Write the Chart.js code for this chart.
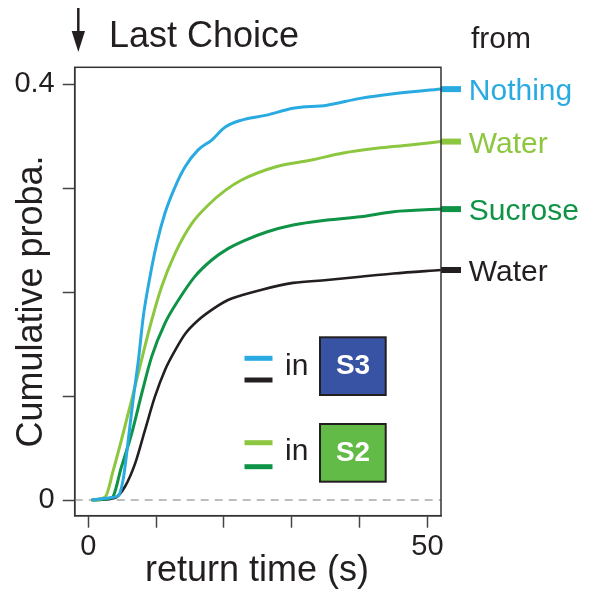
<!DOCTYPE html>
<html lang="en">
<head>
    <meta charset="UTF-8">
    <title>Last Choice</title>
    <style>
        html, body { margin: 0; padding: 0; background: #fff; }
        #grafico { width: 600px !important; height: 590px !important; display: block; }
    </style>
</head>
<body>
    <canvas id="grafico" width="600" height="590"></canvas>
    <script src="https://cdn.jsdelivr.net/npm/chart.js"></script>
    <script>
        // series: return time (s) / cumulative probability
        const nomes = ['Nothing', 'Water', 'Sucrose', 'Water']
        const cores = ['#29abe2', '#8dc63f', '#0f9346', '#231f20']

        const nothingT = [0.5, 3, 4.4, 5.2, 5.9, 6.6, 7.4, 8.1, 9.1, 10.1, 11.3, 12.8, 14.3, 16.2, 18.2, 20.2, 22.6, 26.3, 30.2, 35.2, 40.1, 45, 52]
        const nothingP = [0, 0.002, 0.004, 0.022, 0.058, 0.096, 0.135, 0.176, 0.215, 0.247, 0.276, 0.3015, 0.321, 0.337, 0.3465, 0.359, 0.3657, 0.3705, 0.377, 0.380, 0.3866, 0.391, 0.3955]

        const waterS2T = [0.5, 2.5, 3.7, 4.9, 6.15, 7.6, 9.1, 10.8, 12.8, 15.25, 17.7, 20.2, 22.6, 27.8, 32.7, 37.6, 42.5, 47.4, 52]
        const waterS2P = [0, 0.003, 0.029, 0.058, 0.090, 0.128, 0.167, 0.205, 0.2374, 0.266, 0.284, 0.298, 0.308, 0.321, 0.327, 0.334, 0.3385, 0.3417, 0.345]

        const sucroseT = [0.5, 3.45, 4.9, 6.4, 7.9, 9.35, 11.3, 13.3, 15.7, 18.2, 20.6, 23.1, 26.3, 30.2, 35.2, 40.1, 45, 52]
        const sucroseP = [0, 0.002, 0.032, 0.064, 0.103, 0.138, 0.170, 0.1925, 0.215, 0.231, 0.242, 0.250, 0.258, 0.2647, 0.2695, 0.2727, 0.2775, 0.280]

        const waterS3T = [0.5, 3.9, 5.4, 6.9, 8.35, 9.8, 11.3, 12.8, 14.3, 16.2, 18.2, 20.6, 22.6, 25.3, 30.2, 35.2, 40.1, 45, 52]
        const waterS3P = [0, 0.002, 0.0128, 0.035, 0.067, 0.099, 0.125, 0.144, 0.160, 0.173, 0.183, 0.1925, 0.197, 0.202, 0.209, 0.2117, 0.2149, 0.218, 0.2214]

        const xTicks = [0, 10, 20, 30, 40, 50]
        const xTickLabels = ['0', '', '', '', '', '50']
        const yTicks = [0, 0.1, 0.2, 0.3, 0.4]
        const yTickLabels = ['0', '', '', '', '0.4']

        const fonte = '"Liberation Sans", Arial, Helvetica, sans-serif'
        const tinta = '#231f20'

        const series = [
            [nothingT, nothingP],
            [waterS2T, waterS2P],
            [sucroseT, sucroseP],
            [waterS3T, waterS3P]
        ]

        const pontos = (t, p) => t.map((v, i) => ({ x: v, y: p[i] }))

        const curvas = series.map((s, i) => ({
            label: nomes[i],
            data: pontos(s[0], s[1]),
            borderColor: cores[i],
            borderWidth: i === 3 ? 2.6 : 3,
            pointRadius: 0,
            cubicInterpolationMode: 'monotone',
            fill: false
        }))

        // short thick marks outside the right edge, at each curve's last value
        const marcas = series.map((s, i) => {
            const ultimo = s[1][s[1].length - 1]
            return {
                label: 'mark ' + nomes[i],
                data: [{ x: 52, y: ultimo }, { x: 54.95, y: ultimo }],
                borderColor: cores[i],
                borderWidth: 6,
                borderCapStyle: 'butt',
                pointRadius: 0,
                clip: false
            }
        })

        const linhaZero = {
            label: 'zero',
            data: [{ x: -2, y: 0 }, { x: 52, y: 0 }],
            borderColor: '#a7a9ac',
            borderWidth: 1.5,
            borderDash: [8, 6],
            pointRadius: 0
        }

        const textos = {
            id: 'textos',
            afterDraw(chart) {
                const c = chart.ctx
                const a = chart.chartArea
                const sx = chart.scales.x
                const sy = chart.scales.y
                c.save()

                // box round the plot
                c.strokeStyle = '#333'
                c.lineWidth = 1.5
                c.strokeRect(a.left, a.top, a.right - a.left, a.bottom - a.top)

                // arrow + title
                c.fillStyle = tinta
                c.strokeStyle = tinta
                c.lineWidth = 2.5
                c.beginPath()
                c.moveTo(78.3, 8)
                c.lineTo(78.3, 36)
                c.stroke()
                c.beginPath()
                c.moveTo(71.7, 31)
                c.lineTo(85, 31)
                c.lineTo(78.3, 52)
                c.closePath()
                c.fill()

                c.textBaseline = 'alphabetic'
                c.textAlign = 'left'
                c.font = '36px ' + fonte
                c.fillText('Last Choice', 109, 47)

                c.font = '30px ' + fonte
                c.fillText('from', 471, 48)

                // series names at right
                c.font = '30px ' + fonte
                series.forEach((s, i) => {
                    const ultimo = s[1][s[1].length - 1]
                    c.fillStyle = cores[i]
                    c.fillText(nomes[i], sx.getPixelForValue(56.1), sy.getPixelForValue(ultimo) + 11)
                })

                // axis titles
                c.fillStyle = tinta
                c.font = '36px ' + fonte
                c.textAlign = 'center'
                c.fillText('return time (s)', 257, 581)
                c.save()
                c.translate(41.7, 301.5)
                c.rotate(-Math.PI / 2)
                c.fillText('Cumulative proba.', 0, 0)
                c.restore()

                // legend boxes
                const legenda = [
                    { y1: 358.3, y2: 380, c1: cores[0], c2: cores[3], inY: 375, box: 337.3, fill: '#3953a4', txt: 'S3' },
                    { y1: 442.7, y2: 466.7, c1: cores[1], c2: cores[2], inY: 460, box: 424, fill: '#62bb46', txt: 'S2' }
                ]
                legenda.forEach(l => {
                    c.lineWidth = 5
                    c.lineCap = 'butt'
                    c.strokeStyle = l.c1
                    c.beginPath(); c.moveTo(244.5, l.y1); c.lineTo(272.5, l.y1); c.stroke()
                    c.strokeStyle = l.c2
                    c.beginPath(); c.moveTo(244.5, l.y2); c.lineTo(272.5, l.y2); c.stroke()

                    c.fillStyle = tinta
                    c.textAlign = 'left'
                    c.font = '30px ' + fonte
                    c.fillText('in', 285, l.inY)

                    c.fillStyle = l.fill
                    c.fillRect(320, l.box, 65.7, 57.7)
                    c.strokeStyle = tinta
                    c.lineWidth = 2
                    c.strokeRect(320, l.box, 65.7, 57.7)

                    c.fillStyle = '#fff'
                    c.textAlign = 'center'
                    c.font = 'bold 28px ' + fonte
                    c.fillText(l.txt, 353, l.box + 36.5)
                })

                c.restore()
            }
        }

        const grafico = new Chart(document.getElementById('grafico'), {
            type: 'line',
            data: {
                datasets: [...curvas, ...marcas, linhaZero]
            },
            options: {
                responsive: false,
                animation: false,
                parsing: true,
                layout: { padding: { top: 67.3, right: 159, left: 0, bottom: 0 } },
                plugins: {
                    legend: { display: false },
                    tooltip: { enabled: false }
                },
                scales: {
                    x: {
                        type: 'linear',
                        min: -2,
                        max: 52,
                        afterBuildTicks: s => { s.ticks = xTicks.map(v => ({ value: v })) },
                        afterFit: s => { s.height = 74.3 },
                        grid: { drawOnChartArea: false, drawTicks: true, tickLength: 12, tickColor: '#444', tickWidth: 1.5 },
                        border: { display: true, color: '#333', width: 1.5 },
                        ticks: {
                            autoSkip: false,
                            maxRotation: 0,
                            padding: 2,
                            color: tinta,
                            font: { family: fonte, size: 29 },
                            callback: (v, i) => xTickLabels[i]
                        }
                    },
                    y: {
                        type: 'linear',
                        min: -0.0151,
                        max: 0.4165,
                        afterBuildTicks: s => { s.ticks = yTicks.map(v => ({ value: v })) },
                        afterFit: s => { s.width = 74.7 },
                        grid: { drawOnChartArea: false, drawTicks: true, tickLength: 12, tickColor: '#444', tickWidth: 1.5 },
                        border: { display: true, color: '#333', width: 1.5 },
                        ticks: {
                            autoSkip: false,
                            padding: 8,
                            color: tinta,
                            font: { family: fonte, size: 29 },
                            callback: (v, i) => yTickLabels[i]
                        }
                    }
                }
            },
            plugins: [textos]
        })
    </script>
</body>
</html>
